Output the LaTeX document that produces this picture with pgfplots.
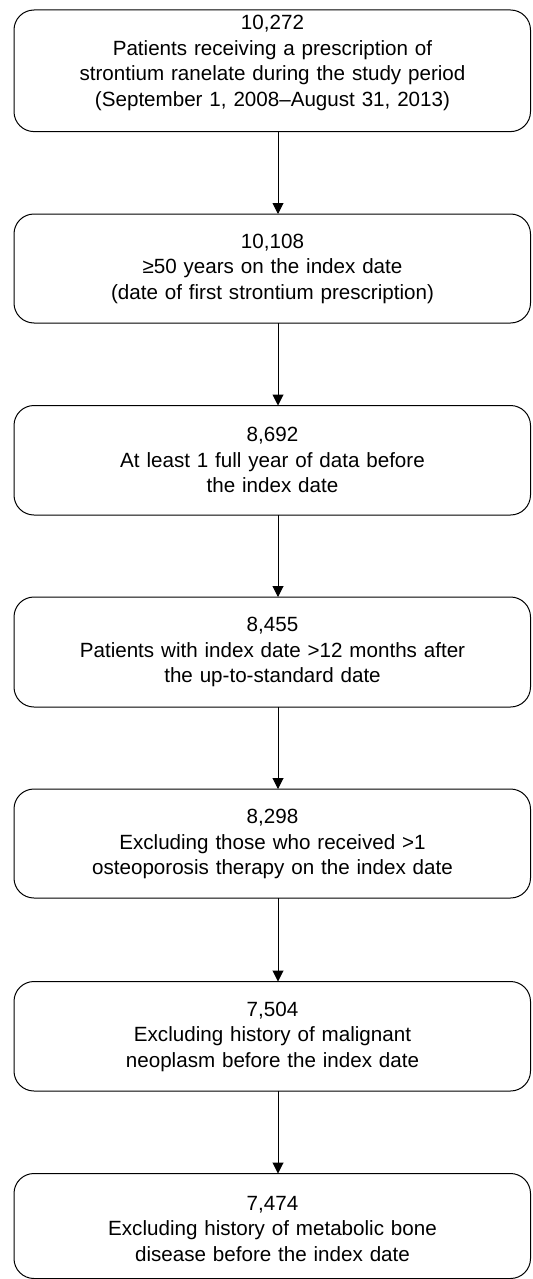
\documentclass[border=0pt]{standalone}
\usepackage{pgfplots}
\pgfplotsset{compat=1.18}
\usepackage{fontspec}
\setmainfont{Liberation Sans}
\usetikzlibrary{arrows.meta}

% box: left, right, top, bottom (pixel units of the reference)
\newcommand\flowbox[4]{%
  \addplot[black, line width=0.5pt, rounded corners=10pt] coordinates {
    (272,#3) (#2,#3) (#2,#4) (#1,#4) (#1,#3) (272,#3)};
}
% arrow from y=#1 down to y=#2
\newcommand\flowarrow[2]{%
  \addplot[black, line width=0.5pt, -{Triangle[width=5.5pt,length=5.5pt]}]
    coordinates {(278,#1) (278,#2)};
}
\tikzset{boxtext/.style={font=\fontsize{10.3}{12.75}\selectfont, align=center, inner sep=0pt, text width=250pt}}

\begin{document}
\begin{tikzpicture}
\begin{axis}[
  hide axis,
  scale only axis,
  width=266pt, height=639.5pt,
  xmin=0, xmax=532, ymin=0, ymax=1279,
  y dir=reverse,
]
  \path (rel axis cs:0,0) rectangle (rel axis cs:1,1);

  \flowbox{14}{530.5}{10}{131.6}
  \flowbox{14}{530.5}{214}{323}
  \flowbox{14}{530.5}{405.5}{515}
  \flowbox{14}{530.5}{597}{707}
  \flowbox{14}{530.5}{789}{898}
  \flowbox{14}{530.5}{981.5}{1091}
  \flowbox{14}{530.5}{1173.5}{1278.5}

  \flowarrow{131.6}{214}
  \flowarrow{323}{405.5}
  \flowarrow{515}{597}
  \flowarrow{707}{789}
  \flowarrow{898}{981.5}
  \flowarrow{1091}{1173.5}

  \node[boxtext] at (axis cs:272.5,63) {10,272\\Patients receiving a prescription of\\strontium ranelate during the study period\\(September 1, 2008--August 31, 2013)};
  \node[boxtext] at (axis cs:272.5,268.5) {10,108\\≥50 years on the index date\\(date of first strontium prescription)};
  \node[boxtext] at (axis cs:272.5,460) {8,692\\At least 1 full year of data before\\the index date};
  \node[boxtext] at (axis cs:272.5,652) {8,455\\Patients with index date >12 months after\\the up-to-standard date};
  \node[boxtext] at (axis cs:272.5,844) {8,298\\Excluding those who received >1\\osteoporosis therapy on the index date};
  \node[boxtext] at (axis cs:272.5,1036.5) {7,504\\Excluding history of malignant\\neoplasm before the index date};
  \node[boxtext] at (axis cs:272.5,1229) {7,474\\Excluding history of metabolic bone\\disease before the index date};
\end{axis}
\end{tikzpicture}
\end{document}
